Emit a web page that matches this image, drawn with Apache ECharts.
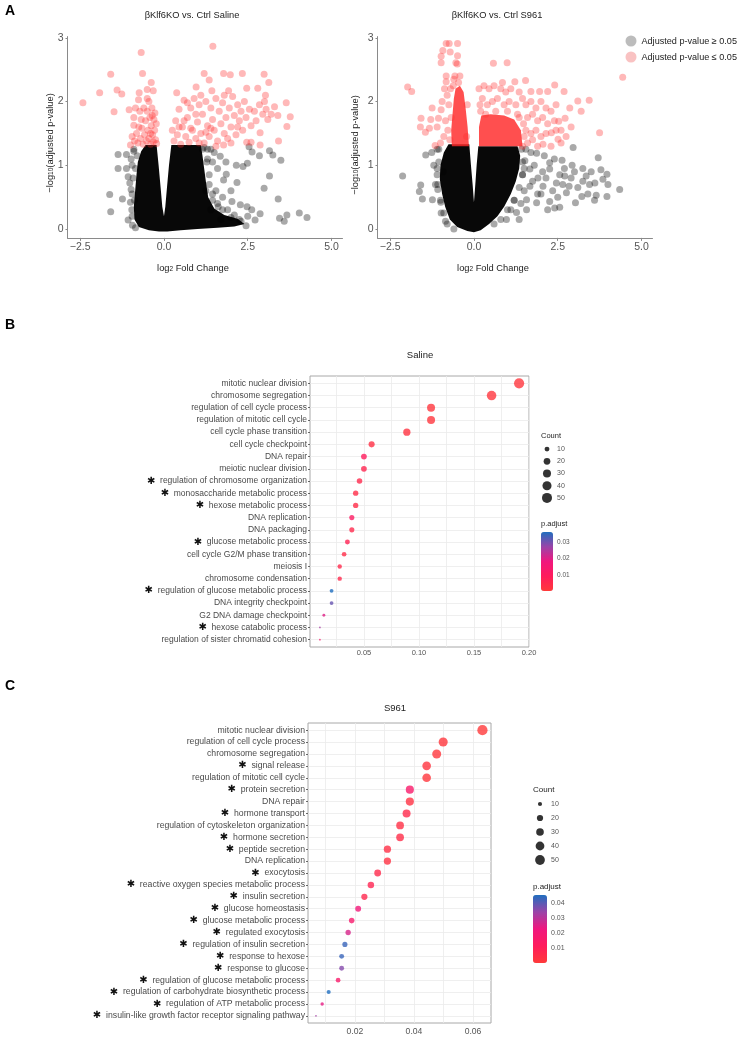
<!DOCTYPE html>
<html>
<head>
<meta charset="utf-8">
<title>Klf6 volcano and GO dot plots</title>
<script src="https://cdn.jsdelivr.net/npm/echarts@6/dist/echarts.min.js"></script>
<style>
html, body { margin: 0; padding: 0; background: #fff; }
#main { width: 746px; height: 1048px; }
</style>
</head>
<body>
<div id="main"></div>
<script>
'use strict'
// ---------- A: volcano plots (log2 FC, -log10 adj p) ----------
const fcTicks = [-2.5, 0, 2.5, 5];
const logpTicks = [0, 1, 2, 3];

// dense black cloud outline, saline
const salineCore = [[-0.55,1.32],[-0.68,1.22],[-0.78,1.05],[-0.82,0.85],[-0.86,0.6],[-0.9,0.35],[-0.88,0.15],[-0.75,0.03],[-0.45,-0.02],[-0.15,-0.04],[0.1,-0.04],[0.5,-0.02],[1.0,0.0],[1.6,0.02],[2.1,0.04],[2.4,0.08],[2.2,0.16],[1.8,0.22],[1.5,0.32],[1.32,0.5],[1.25,0.75],[1.2,0.95],[1.15,1.15],[1.1,1.32],[0.22,1.32],[0.15,1.0],[0.09,0.65],[0.04,0.35],[0.0,0.2],[-0.05,0.35],[-0.1,0.65],[-0.16,1.0],[-0.22,1.32]];
const salineNs = [[-1.37,1.17],[-1.12,1.17],[-1.37,0.95],[-1.12,0.95],[-1.62,0.54],[-1.59,0.27],[-1.24,0.47],[-1.07,0.14],[-0.94,0.06],[-1.07,0.82],[-1.02,0.72],[-0.98,1.1],[-0.95,0.55],[-0.96,0.3],[-1.0,0.42],[-0.9,1.22],[-0.85,0.95],[1.68,1.14],[1.5,1.2],[2.16,1.0],[2.36,0.98],[2.49,1.03],[2.54,1.29],[2.63,1.21],[2.85,1.15],[3.15,1.23],[3.25,1.16],[3.49,1.08],[3.15,0.83],[2.99,0.64],[3.41,0.47],[2.18,0.73],[2.03,0.43],[2.28,0.38],[2.48,0.35],[2.62,0.30],[2.87,0.24],[3.45,0.17],[3.59,0.12],[3.67,0.22],[4.04,0.25],[4.27,0.18],[2.72,0.14],[2.5,0.2],[1.78,0.77],[1.86,0.86],[1.6,0.95],[1.55,0.6],[1.75,0.5],[1.9,0.3],[2.1,0.22],[1.45,1.05],[1.62,0.35],[2.3,0.12],[1.4,1.25],[1.85,1.05],[2.0,0.6],[1.35,0.85],[1.45,0.45],[1.3,1.1],
  [-0.9,1.25],[-0.95,1.0],[-0.92,0.8],[-0.98,0.62],[-0.95,0.2],[-0.85,0.02],[-0.8,1.15],[-0.88,0.45],[1.2,1.28],[1.28,1.05],[1.35,0.7],[1.45,0.55],[1.6,0.4],[1.75,0.3],[2.0,0.18],[2.25,0.15],[2.45,0.05],[1.3,1.25],[1.25,0.6],[1.15,1.25],[1.4,0.3],[1.7,0.15]];
const salineSig = [[-2.42,1.98],[-1.92,2.14],[-1.59,2.43],[-1.40,2.18],[-1.26,2.12],[-1.49,1.84],[-1.04,1.87],[-0.90,1.63],[-0.68,2.77],[-0.64,2.44],[-0.38,2.30],[-0.5,2.19],[-0.32,2.17],[-0.74,2.14],[-0.76,2.03],[-0.5,2.05],[-0.72,1.85],
  [-0.95,1.45],[-0.88,1.38],[-0.82,1.5],[-0.78,1.35],[-0.7,1.42],[-0.66,1.58],[-0.62,1.33],[-0.58,1.48],[-0.55,1.7],[-0.52,1.38],[-0.5,1.85],[-0.48,1.55],[-0.45,1.42],[-0.42,1.75],[-0.4,1.33],[-0.38,1.62],[-0.36,1.9],[-0.34,1.48],[-0.32,1.37],[-0.3,1.72],[-0.28,1.55],[-0.27,1.82],[-0.25,1.4],[-0.23,1.65],[-0.22,1.34],[-0.6,1.9],[-0.68,1.72],[-0.85,1.9],[-0.9,1.75],[-0.45,2.0],[-0.35,1.78],[-0.4,1.5],[-1.0,1.32],[-0.75,1.6],
  [1.46,2.87],[1.20,2.44],[1.35,2.34],[1.78,2.44],[1.98,2.42],[2.34,2.44],[2.99,2.43],[3.13,2.30],[0.38,2.14],[0.96,2.23],[1.43,2.17],[1.93,2.17],[2.47,2.21],[2.80,2.21],[3.03,2.10],[3.65,1.98],[3.77,1.76],[3.67,1.61],[3.42,1.38],[2.87,1.51],[2.87,1.32],[2.47,1.36],[2.6,1.36],[1.78,1.32],
  [0.25,1.55],[0.3,1.38],[0.35,1.7],[0.4,1.48],[0.45,1.88],[0.5,1.33],[0.55,1.6],[0.6,2.02],[0.65,1.45],[0.7,1.75],[0.75,1.36],[0.8,1.9],[0.85,1.55],[0.9,2.05],[0.95,1.42],[1.0,1.68],[1.05,1.95],[1.1,1.5],[1.15,1.8],[1.2,1.35],[1.25,2.0],[1.3,1.62],[1.35,1.45],[1.4,1.9],[1.45,1.72],[1.5,1.55],[1.55,2.05],[1.6,1.38],[1.65,1.85],[1.7,1.65],[1.75,1.98],[1.8,1.5],[1.85,1.75],[1.9,1.42],[1.95,1.9],[2.0,1.6],[2.05,2.08],[2.1,1.78],[2.15,1.48],[2.2,1.95],[2.25,1.7],[2.3,1.85],[2.35,1.55],[2.4,2.0],[2.45,1.75],[2.55,1.88],[2.6,1.62],[2.7,1.85],[2.75,1.7],[2.85,1.95],[2.95,1.8],[3.0,2.0],[3.05,1.88],[3.1,1.72],[3.2,1.8],[3.3,1.92],[3.4,1.78],[0.6,1.7],[0.95,1.8],[1.1,2.1],[1.55,1.3],[0.8,1.58],[1.25,1.52],[0.45,1.6],[0.7,1.98],[1.05,1.35],[1.8,2.1],[2.0,1.35],[1.4,1.58],[2.2,1.6]];

// S961
const s961Core = [[-0.76,1.33],[-0.9,1.2],[-1.0,1.0],[-1.02,0.78],[-0.95,0.55],[-0.86,0.35],[-0.72,0.15],[-0.5,0.03],[-0.2,-0.03],[0.0,-0.05],[0.2,-0.02],[0.45,0.08],[0.7,0.2],[0.9,0.35],[1.1,0.55],[1.25,0.75],[1.35,0.95],[1.38,1.15],[1.3,1.3],[0.13,1.3],[0.08,1.0],[0.04,0.7],[0.0,0.42],[-0.04,0.7],[-0.09,1.0],[-0.14,1.33]];
const s961SigLeft = [[-0.66,1.3],[-0.68,1.55],[-0.64,1.8],[-0.6,2.05],[-0.55,2.2],[-0.42,2.25],[-0.31,2.15],[-0.25,1.9],[-0.19,1.6],[-0.15,1.3]];
const s961SigRight = [[0.15,1.3],[0.15,1.6],[0.22,1.78],[0.5,1.8],[0.9,1.78],[1.2,1.72],[1.4,1.55],[1.45,1.3]];
const s961Ns = [[-2.13,0.83],[-1.59,0.69],[-1.63,0.59],[-1.54,0.47],[-1.24,0.46],[-0.99,0.42],[-1.44,1.16],[-1.26,1.20],[-1.08,0.62],[-1.1,0.85],[-1.05,1.05],[-1.15,0.7],[-0.98,0.25],[-0.85,0.12],[-0.92,0.9],[-1.2,1.0],[-1.1,1.25],
  [2.96,1.28],[2.63,1.08],[2.93,1.0],[3.71,1.12],[3.79,0.93],[3.97,0.86],[3.61,0.72],[4.35,0.62],[3.97,0.51],[3.65,0.53],[3.25,0.75],[3.35,0.83],[3.22,0.51],[3.03,0.41],[2.56,0.85],[2.71,0.83],[2.84,0.67],[2.76,0.57],[2.46,0.72],[2.26,0.94],[2.26,1.04],[1.87,1.19],[1.52,1.07],[1.67,0.94],[1.91,0.80],[2.06,0.67],[1.67,0.67],[1.57,0.46],[1.87,0.41],[2.26,0.43],[2.41,0.33],[2.56,0.34],[1.57,0.30],[1.27,0.26],[0.97,0.15],[1.45,0.85],[1.5,0.6],[1.75,0.75],[2.0,0.55],[2.15,0.8],[2.35,0.6],[2.5,0.5],[2.65,0.7],[2.9,0.8],[3.1,0.65],[3.45,0.7],[3.5,0.9],[3.85,0.78],[3.6,0.45],[2.7,0.95],[2.4,1.1],[2.1,1.15],[1.7,1.2],[1.55,1.25],[1.4,0.4],[1.2,0.45],[1.1,0.3],[1.35,0.15],[1.9,0.55],[2.2,0.3],[3.0,0.9],[3.25,0.95],[1.8,1.0],[2.05,0.9],[3.4,0.55],[4.0,0.7],
  [-1.05,1.25],[-1.1,0.95],[-1.08,0.7],[-1.0,0.45],[-0.9,0.25],[-0.8,0.08],[1.42,1.25],[1.45,1.05],[1.45,0.85],[1.35,0.65],[1.2,0.45],[1.0,0.3],[0.8,0.15],[0.6,0.08],[-0.6,0.0],[1.5,0.95]];
const s961Sig = [[-0.83,2.91],[-0.74,2.91],[-0.49,2.91],[-0.93,2.80],[-0.71,2.78],[-0.98,2.71],[-0.49,2.72],[-0.98,2.61],[-0.54,2.61],[-0.50,2.59],[-0.83,2.40],[-0.57,2.40],[-0.42,2.40],[-0.83,2.31],[-0.6,2.35],[-0.46,2.3],
  [-1.98,2.23],[-1.86,2.16],[-1.25,1.90],[-1.58,1.74],[-1.33,1.58],[-1.29,1.72],[-1.06,1.74],[-1.16,1.31],[-0.98,1.87],[-0.95,2.0],[-1.1,1.6],[-0.9,1.45],[-1.0,1.35],[-0.85,1.7],[-0.8,2.1],[-0.75,1.95],[-0.78,1.55],[-0.72,1.4],[-0.88,2.2],[-1.45,1.52],[-1.6,1.6],[-0.7,2.2],[-0.68,1.75],
  [0.58,2.60],[0.99,2.61],[1.22,2.31],[1.54,2.33],[2.41,2.26],[2.69,2.16],[3.10,2.01],[3.44,2.02],[2.86,1.90],[2.72,1.74],[2.53,1.69],[3.75,1.51],[4.44,2.38],[2.31,1.51],[2.51,1.41],[2.06,1.33],[1.96,2.16],[1.70,2.16],[2.2,2.16],[0.3,2.25],[0.45,2.2],[0.6,2.25],[0.8,2.2],[0.95,2.15],[1.1,2.2],[1.35,2.15],[1.45,2.05],[0.25,2.05],[0.4,1.95],[0.55,2.0],[0.7,2.05],[0.9,1.95],[1.05,2.0],[1.25,1.95],[1.55,1.95],[1.7,2.0],[1.85,1.9],[2.0,2.0],[2.15,1.9],[2.3,1.85],[2.45,1.95],[1.6,1.75],[1.75,1.8],[1.9,1.7],[2.05,1.75],[2.2,1.65],[2.4,1.7],[1.55,1.55],[1.7,1.5],[1.85,1.55],[2.0,1.45],[2.15,1.5],[1.6,1.35],[1.75,1.4],[1.9,1.3],[2.3,1.3],[2.6,1.35],[2.75,1.45],[2.45,1.55],[0.2,1.85],[0.35,1.8],[0.65,1.85],[1.0,1.85],[1.3,1.8],[3.2,1.85],[2.9,1.6],[2.6,1.55],[1.45,1.3],[0.85,2.3],[0.15,2.2],
  [1.5,1.45],[1.48,1.65],[1.35,1.75],[0.18,1.95],[-0.2,1.95],[-0.62,2.25],[-0.22,1.45]];

// ---------- B: Saline GO enrichment ----------
const termsB = ['mitotic nuclear division','chromosome segregation','regulation of cell cycle process','regulation of mitotic cell cycle','cell cycle phase transition','cell cycle checkpoint','DNA repair','meiotic nuclear division','regulation of chromosome organization','monosaccharide metabolic process','hexose metabolic process','DNA replication','DNA packaging','glucose metabolic process','cell cycle G2/M phase transition','meiosis I','chromosome condensation','regulation of glucose metabolic process','DNA integrity checkpoint','G2 DNA damage checkpoint','hexose catabolic process','regulation of sister chromatid cohesion'];
const starB = [0,0,0,0,0,0,0,0,1,1,1,0,0,1,0,0,0,1,0,0,1,0];
const ratioB = [0.191,0.166,0.111,0.111,0.089,0.057,0.050,0.050,0.046,0.0425,0.0425,0.039,0.039,0.035,0.032,0.028,0.028,0.0206,0.0206,0.0136,0.010,0.010];
const countB = [52,45,30,30,24,16,14,14,13,12,12,11,11,10,9,8,8,6,6,4,3,3];
const padjB = [0.001,0.001,0.001,0.001,0.002,0.003,0.009,0.006,0.005,0.004,0.004,0.011,0.005,0.007,0.004,0.005,0.005,0.0364,0.031,0.020,0.026,0.013];
const ratioTicksB = [0.05, 0.10, 0.15, 0.20];
const ratioGridB = [0.025, 0.05, 0.075, 0.10, 0.125, 0.15, 0.175, 0.20];
const padjTicksB = [0.01, 0.02, 0.03];

// ---------- C: S961 GO enrichment ----------
const termsC = ['mitotic nuclear division','regulation of cell cycle process','chromosome segregation','signal release','regulation of mitotic cell cycle','protein secretion','DNA repair','hormone transport','regulation of cytoskeleton organization','hormone secretion','peptide secretion','DNA replication','exocytosis','reactive oxygen species metabolic process','insulin secretion','glucose homeostasis','glucose metabolic process','regulated exocytosis','regulation of insulin secretion','response to hexose','response to glucose','regulation of glucose metabolic process','regulation of carbohydrate biosynthetic process','regulation of ATP metabolic process','insulin-like growth factor receptor signaling pathway'];
const starC = [0,0,0,1,0,1,0,1,0,1,1,0,1,1,1,1,1,1,1,1,1,1,1,1,1];
const ratioC = [0.0632,0.0499,0.0477,0.0443,0.0443,0.0386,0.0386,0.0375,0.0353,0.0353,0.031,0.031,0.0277,0.0254,0.0232,0.0211,0.0189,0.0177,0.0166,0.0155,0.0155,0.0143,0.0111,0.0089,0.0068];
const countC = [55,43,42,39,39,34,34,33,31,31,27,27,24,22,20,18,16,15,14,13,13,12,10,8,6];
const padjC = [0.0005,0.001,0.001,0.002,0.001,0.016,0.003,0.006,0.004,0.005,0.004,0.003,0.006,0.008,0.007,0.021,0.017,0.026,0.043,0.043,0.036,0.016,0.0455,0.024,0.033];
const ratioTicksC = [0.02, 0.04, 0.06];
const ratioGridC = [0.01, 0.02, 0.03, 0.04, 0.05, 0.06];
const padjTicksC = [0.01, 0.02, 0.03, 0.04];

const countLegend = [10, 20, 30, 40, 50];

const FONT = '"Liberation Sans", Arial, sans-serif';
const padjColors = ['#ff3a3a', '#ff1c5c', '#f0177e', '#9a44a8', '#1f6ebf'];

function sizeScale(counts) {
    let lo = Math.min(...counts), hi = Math.max(...counts);
    return c => 1.7 * (1 + 5 * Math.sqrt(Math.max(0, c - lo) / (hi - lo)));
}
const sizeB = sizeScale(countB);
const sizeC = sizeScale(countC);

// filled outline(s) drawn through the axis scales
function polygonSeries(shapes, idx, color) {
    return {
        type: 'custom', xAxisIndex: idx, yAxisIndex: idx, silent: true, z: 1,
        data: [shapes[0][0]],
        renderItem: function (params, api) {
            return {
                type: 'group',
                children: shapes.map(pts => ({
                    type: 'polygon',
                    shape: { points: pts.map(p => api.coord(p)) },
                    style: { fill: color }
                }))
            };
        }
    };
}

function volcanoAxes(idx) {
    let x = {
        type: 'value', gridIndex: idx, min: -2.88, max: 5.33,
        axisLine: { onZero: false, lineStyle: { color: '#8a8a8a', width: 1 } },
        axisTick: { show: true, length: 3, customValues: fcTicks, lineStyle: { color: '#8a8a8a' } },
        axisLabel: { customValues: fcTicks, margin: 4, fontSize: 10.5, color: '#555', fontFamily: FONT,
            formatter: v => (v < 0 ? '\u2212' : '') + Math.abs(v).toFixed(1) },
        splitLine: { show: false }
    };
    let y = {
        type: 'value', gridIndex: idx, min: -0.14, max: 3.02,
        axisLine: { onZero: false, lineStyle: { color: '#8a8a8a', width: 1 } },
        axisTick: { show: true, length: 2, customValues: logpTicks, lineStyle: { color: '#8a8a8a' } },
        axisLabel: { customValues: logpTicks, margin: 4, fontSize: 10.5, color: '#555', fontFamily: FONT },
        splitLine: { show: false }
    };
    return [x, y];
}

function dotAxes(idx, terms, stars, xmin, xmax, ticks, gridVals, fs, tickFs, labelMargin) {
    let n = terms.length;
    let rows = terms.map((t, i) => i + 1);
    let x = {
        type: 'value', gridIndex: idx, min: xmin, max: xmax,
        axisLine: { show: false },
        axisTick: { show: false, customValues: gridVals },
        axisLabel: { customValues: ticks, margin: labelMargin, fontSize: tickFs, color: '#555', fontFamily: FONT,
            formatter: v => v.toFixed(2) },
        splitLine: { show: true, lineStyle: { color: '#ebebeb', width: 0.8 } }
    };
    let y = {
        type: 'value', gridIndex: idx, min: 0.4, max: n + 0.6, inverse: true,
        axisLine: { show: false },
        axisTick: { show: true, length: 2, customValues: rows, lineStyle: { color: '#444', width: 0.8 } },
        axisLabel: {
            customValues: rows, margin: 3, fontSize: fs, color: '#4a4a4a', fontFamily: FONT,
            formatter: function (v) {
                let i = Math.round(v) - 1;
                return stars[i] ? '{st|\u2731}  ' + terms[i] : terms[i];
            },
            rich: { st: { fontSize: 10, color: '#111', fontFamily: '"DejaVu Sans"' } }
        },
        splitLine: { show: true, lineStyle: { color: '#ebebeb', width: 0.8 } }
    };
    return [x, y];
}

function legendAxes(idx) {
    return [
        { type: 'value', gridIndex: idx, min: 0, max: 1, show: false },
        { type: 'category', gridIndex: idx, data: countLegend.map(String), inverse: true, position: 'right',
          axisLine: { show: false }, axisTick: { show: false },
          axisLabel: { margin: 4, fontSize: 7, color: '#555', fontFamily: FONT } }
    ];
}

function txt(x, y, text, size, opts) {
    opts = opts || {};
    return {
        type: 'text', x: x, y: y, rotation: opts.rot || 0, silent: true,
        style: {
            text: text, fill: opts.color || '#222', font: (opts.bold ? 'bold ' : '') + size + 'px ' + FONT,
            align: opts.align || 'center', verticalAlign: 'middle', rich: opts.rich
        }
    };
}

let chart = echarts.init(document.getElementById('main'), null, { renderer: 'canvas' });

let va = volcanoAxes(0), vb = volcanoAxes(1);
let da = dotAxes(2, termsB, starB, 0.001, 0.2, ratioTicksB, ratioGridB, 8.5, 7.5, 2);
let db = dotAxes(3, termsC, starC, 0.0041, 0.0661, ratioTicksC, ratioGridC, 8.7, 8.6, 4);
let la = legendAxes(4), lb = legendAxes(5);

const subRich = { s: { fontSize: 6.5, verticalAlign: 'bottom', lineHeight: 7, fontFamily: FONT, fill: '#222' } };

let graphics = [
    txt(10, 11, 'A', 14, { bold: true, color: '#000' }),
    txt(10, 325, 'B', 14, { bold: true, color: '#000' }),
    txt(10, 686, 'C', 14, { bold: true, color: '#000' }),
    txt(192, 15, '\u03b2Klf6KO vs. Ctrl Saline', 9.3),
    txt(497, 15, '\u03b2Klf6KO vs. Ctrl S961', 9.3),
    txt(193, 268, 'log{s|2} Fold Change', 9.3, { rich: subRich }),
    txt(493, 268, 'log{s|2} Fold Change', 9.3, { rich: subRich }),
    txt(50, 143, '\u2212log{s|10}(adjusted p-value)', 9.3, { rot: Math.PI / 2, rich: subRich }),
    txt(355, 145, '\u2212log{s|10}(adjusted p-value)', 9.3, { rot: Math.PI / 2, rich: subRich }),
    txt(420, 355, 'Saline', 9.5),
    txt(395, 708, 'S961', 9.5),
    txt(541, 436, 'Count', 7.5, { align: 'left' }),
    txt(541, 524, 'p.adjust', 7.5, { align: 'left' }),
    txt(533, 790, 'Count', 8, { align: 'left' }),
    txt(533, 887, 'p.adjust', 8, { align: 'left' })
];
// colour-bar tick labels
padjTicksB.forEach(v => graphics.push(txt(557, 591 - v / 0.0364 * 59, v.toFixed(2), 6.5, { align: 'left', color: '#555' })));
padjTicksC.forEach(v => graphics.push(txt(551, 963 - v / 0.0455 * 68, v.toFixed(2), 7, { align: 'left', color: '#555' })));

const NS = 'Adjusted p-value \u2265 0.05';
const SIG = 'Adjusted p-value \u2264 0.05';
const grayPt = 'rgba(0,0,0,0.42)';
const redPt = 'rgba(255,45,45,0.42)';

let option = {
    animation: false,
    backgroundColor: '#fff',
    textStyle: { fontFamily: FONT },
    grid: [
        { left: 67.5, top: 36.6, width: 275, height: 201.3 },
        { left: 377.5, top: 36.6, width: 275, height: 201.3 },
        { left: 310, top: 376, width: 219, height: 271, show: true, borderColor: '#a8a8a8', borderWidth: 1 },
        { left: 308, top: 723, width: 183, height: 300, show: true, borderColor: '#a8a8a8', borderWidth: 1 },
        { left: 541, top: 443, width: 12, height: 61 },
        { left: 533, top: 797, width: 14, height: 70 }
    ],
    xAxis: [va[0], vb[0], da[0], db[0], la[0], lb[0]],
    yAxis: [va[1], vb[1], da[1], db[1], la[1], lb[1]],
    legend: {
        orient: 'vertical', left: 625.5, top: 35.5, padding: 0, itemGap: 5,
        itemWidth: 11, itemHeight: 11, icon: 'circle',
        textStyle: { fontSize: 9.1, color: '#222', fontFamily: FONT },
        data: [
            { name: NS, itemStyle: { color: '#ababab' } },
            { name: SIG, itemStyle: { color: '#f7b3b3' } }
        ]
    },
    visualMap: [
        { type: 'continuous', seriesIndex: 7, dimension: 2, min: 0, max: 0.0364,
          left: 541, top: 532, itemWidth: 12, itemHeight: 59, padding: 0, text: null, showLabel: false,
          calculable: false, realtime: false, hoverLink: false,
          inRange: { color: padjColors } },
        { type: 'continuous', seriesIndex: 8, dimension: 2, min: 0, max: 0.0455,
          left: 533, top: 895, itemWidth: 14, itemHeight: 68, padding: 0, text: null, showLabel: false,
          calculable: false, realtime: false, hoverLink: false,
          inRange: { color: padjColors } }
    ],
    graphic: graphics,
    series: [
        polygonSeries([salineCore], 0, 'rgba(0,0,0,0.97)'),
        { name: NS, type: 'scatter', xAxisIndex: 0, yAxisIndex: 0, symbolSize: 7, data: salineNs,
          itemStyle: { color: grayPt }, z: 2 },
        { name: SIG, type: 'scatter', xAxisIndex: 0, yAxisIndex: 0, symbolSize: 7, data: salineSig,
          itemStyle: { color: redPt }, z: 2 },
        polygonSeries([s961Core], 1, 'rgba(0,0,0,0.97)'),
        polygonSeries([s961SigLeft, s961SigRight], 1, 'rgba(255,40,40,0.82)'),
        { name: NS, type: 'scatter', xAxisIndex: 1, yAxisIndex: 1, symbolSize: 7, data: s961Ns,
          itemStyle: { color: grayPt }, z: 2 },
        { name: SIG, type: 'scatter', xAxisIndex: 1, yAxisIndex: 1, symbolSize: 7, data: s961Sig,
          itemStyle: { color: redPt }, z: 2 },
        { type: 'scatter', xAxisIndex: 2, yAxisIndex: 2,
          data: termsB.map((t, i) => [ratioB[i], i + 1, padjB[i], countB[i]]),
          symbolSize: v => sizeB(v[3]) },
        { type: 'scatter', xAxisIndex: 3, yAxisIndex: 3,
          data: termsC.map((t, i) => [ratioC[i], i + 1, padjC[i], countC[i]]),
          symbolSize: v => sizeC(v[3]) },
        { type: 'scatter', xAxisIndex: 4, yAxisIndex: 4, silent: true,
          data: countLegend.map((c, i) => [0.5, i, c]),
          symbolSize: v => sizeB(v[2]), itemStyle: { color: '#000' } },
        { type: 'scatter', xAxisIndex: 5, yAxisIndex: 5, silent: true,
          data: countLegend.map((c, i) => [0.5, i, c]),
          symbolSize: v => sizeC(v[2]), itemStyle: { color: '#000' } }
    ]
};
chart.setOption(option);
window.onresize = chart.resize;
</script>
</body>
</html>
